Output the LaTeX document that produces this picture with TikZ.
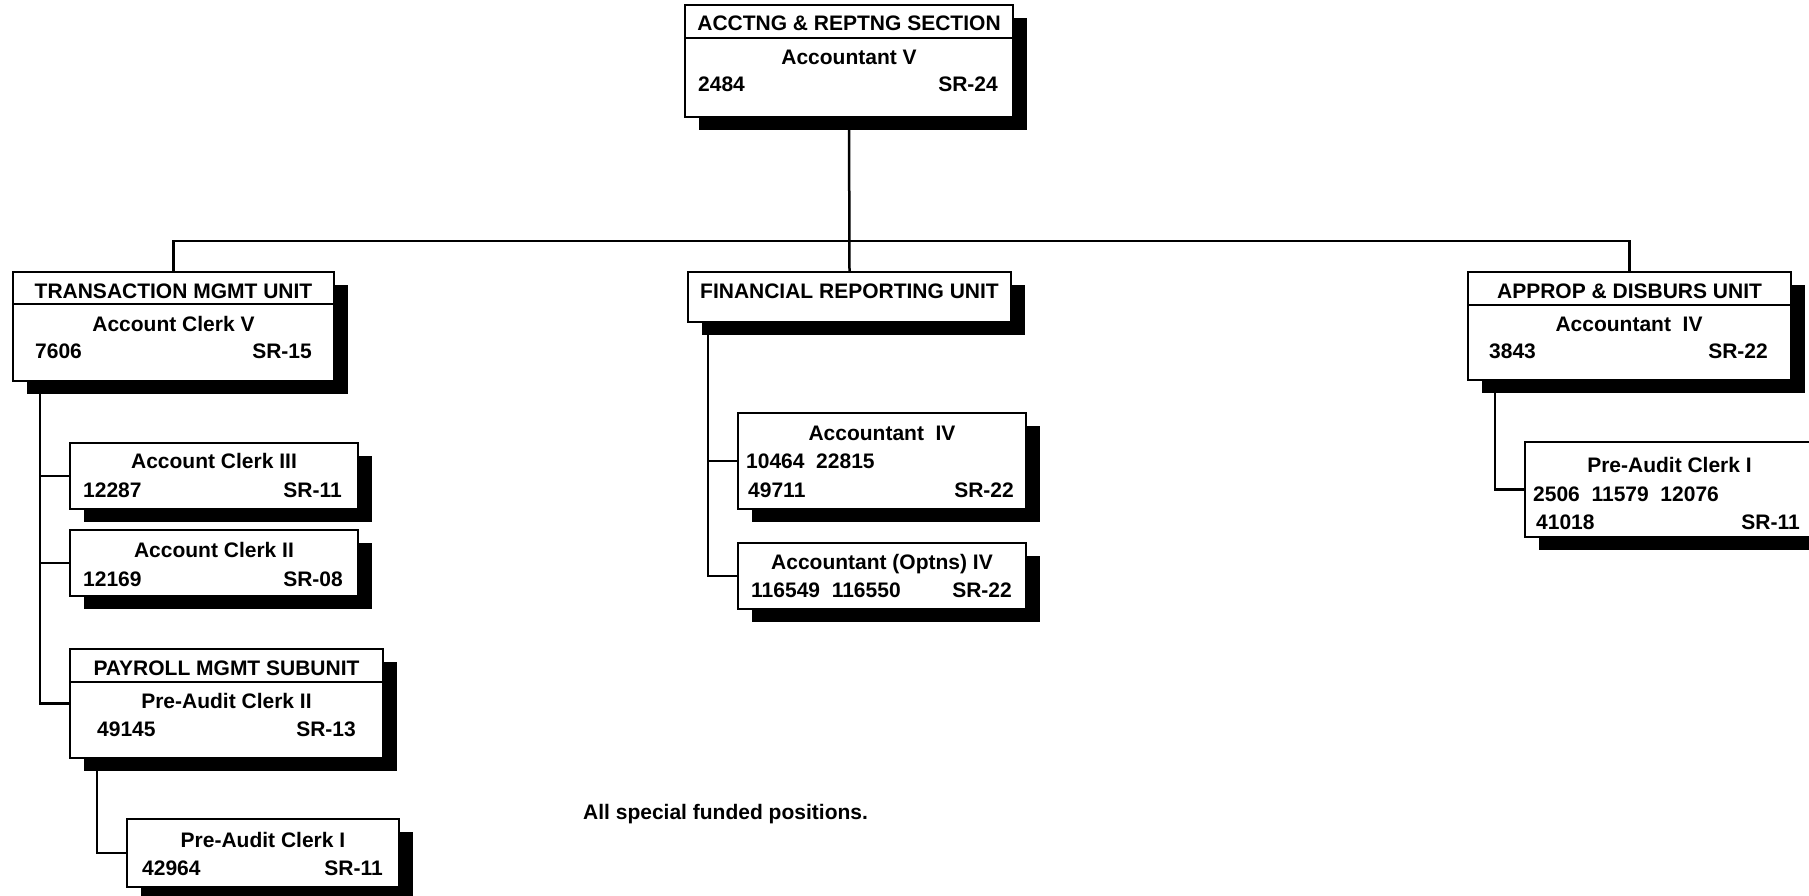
\documentclass[tikz,border=0pt]{standalone}
\usepackage{fontspec}
\setmainfont{Liberation Sans}
\usetikzlibrary{shadows,backgrounds}
\begin{document}
\begin{tikzpicture}[x=1pt,y=-1pt,
  ln/.style={line width=2.5pt},
  box/.style={draw, line width=2.3pt, fill=white, inner sep=0pt, outer sep=0pt, anchor=north west,
    drop shadow={fill=black, opacity=1, shadow xshift=14pt, shadow yshift=-13pt}},
  t/.style={inner sep=0pt, font=\fontsize{21}{25}\selectfont\bfseries},
  tc/.style={t, anchor=base},
  tl/.style={t, anchor=base west},
  tr/.style={t, anchor=base east}]
\useasboundingbox (0,0) rectangle (1809,895);
\clip (0,0) rectangle (1809,895);

% boxes
\node[box, minimum width=328pt, minimum height=112pt] (top) at (685,5) {};
\node[box, minimum width=321pt, minimum height=109pt] (tmu) at (13,272) {};
\node[box, minimum width=288pt, minimum height=66pt] (ac3) at (70,443) {};
\node[box, minimum width=288pt, minimum height=66pt] (ac2) at (70,530) {};
\node[box, minimum width=313pt, minimum height=109pt] (pay) at (70,649) {};
\node[box, minimum width=272pt, minimum height=68pt] (pac1) at (127,819) {};
\node[box, minimum width=323pt, minimum height=50pt] (fru) at (688,272) {};
\node[box, minimum width=288pt, minimum height=96pt] (a4) at (738,413) {};
\node[box, minimum width=288pt, minimum height=66pt] (aop) at (738,543) {};
\node[box, minimum width=323pt, minimum height=108pt] (adu) at (1468,272) {};
\node[box, minimum width=289pt, minimum height=95pt] (pac2) at (1525,442) {};

% header dividers
\draw[line width=2.3pt] (top.west |- 0,38) -- (top.east |- 0,38);
\draw[line width=2.3pt] (tmu.west |- 0,304) -- (tmu.east |- 0,304);
\draw[line width=2.3pt] (pay.west |- 0,682) -- (pay.east |- 0,682);
\draw[line width=2.3pt] (adu.west |- 0,305) -- (adu.east |- 0,305);

% texts
\node[tc] (topH) at (849,30) {ACCTNG \& REPTNG SECTION};
\node[tc] (topT) at (849,64) {Accountant V};
\node[tl] (topN) at (698,91) {2484};
\node[tr] (topS) at (998,91) {SR-24};

\node[tc] (tmuH) at (173.5,298) {TRANSACTION MGMT UNIT};
\node[tc] (tmuT) at (173.5,331) {Account Clerk V};
\node[tl] (tmuN) at (35,358) {7606};
\node[tr] (tmuS) at (312,358) {SR-15};

\node[tc] (ac3T) at (214,468) {Account Clerk III};
\node[tl] (ac3N) at (83,497) {12287};
\node[tr] (ac3S) at (342,497) {SR-11};

\node[tc] (ac2T) at (214,557) {Account Clerk II};
\node[tl] (ac2N) at (83,586) {12169};
\node[tr] (ac2S) at (343,586) {SR-08};

\node[tc] (payH) at (226.5,675) {PAYROLL MGMT SUBUNIT};
\node[tc] (payT) at (226.5,708) {Pre-Audit Clerk II};
\node[tl] (payN) at (97,736) {49145};
\node[tr] (payS) at (356,736) {SR-13};

\node[tc] (pac1T) at (263,847) {Pre-Audit Clerk I};
\node[tl] (pac1N) at (142,875) {42964};
\node[tr] (pac1S) at (383,875) {SR-11};

\node[tc] (fruH) at (849.5,298) {FINANCIAL REPORTING UNIT};

\node[tc] (a4T) at (882,440) {Accountant\ \ IV};
\node[tl] (a4N1) at (746,468) {10464\ \ 22815};
\node[tl] (a4N2) at (748,497) {49711};
\node[tr] (a4S) at (1014,497) {SR-22};

\node[tc] (aopT) at (882,569) {Accountant (Optns) IV};
\node[tl] (aopN) at (751,597) {116549\ \ 116550};
\node[tr] (aopS) at (1012,597) {SR-22};

\node[tc] (aduH) at (1629.5,298) {APPROP \& DISBURS UNIT};
\node[tc] (aduT) at (1629,331) {Accountant\ \ IV};
\node[tl] (aduN) at (1489,358) {3843};
\node[tr] (aduS) at (1768,358) {SR-22};

\node[tc] (pac2T) at (1669.5,472) {Pre-Audit Clerk I};
\node[tl] (pac2N1) at (1533,501) {2506\ \ 11579\ \ 12076};
\node[tl] (pac2N2) at (1536,529) {41018};
\node[tr] (pac2S) at (1800,529) {SR-11};

\node[tl] (note) at (583,819) {All special funded positions.};

% connectors
\begin{scope}[on background layer]
\coordinate (bus) at (849,241);
\coordinate (t0) at (40,381);
\coordinate (p0) at (97,758);
\coordinate (f0) at (708,322);
\coordinate (d0) at (1495,380);
\draw[ln] (top.south) -- (fru.north);
\draw[ln] (tmu.north) |- (bus) -| (adu.north);
\draw[ln] (t0) |- (ac3.west);
\draw[ln] (t0) |- (ac2.west);
\draw[ln] (t0) |- (pay.west);
\draw[ln] (p0) |- (pac1.west);
\draw[ln] (f0) |- (a4.west);
\draw[ln] (f0) |- (aop.west);
\draw[ln] (d0) |- (pac2.west);
\end{scope}
\end{tikzpicture}
\end{document}
